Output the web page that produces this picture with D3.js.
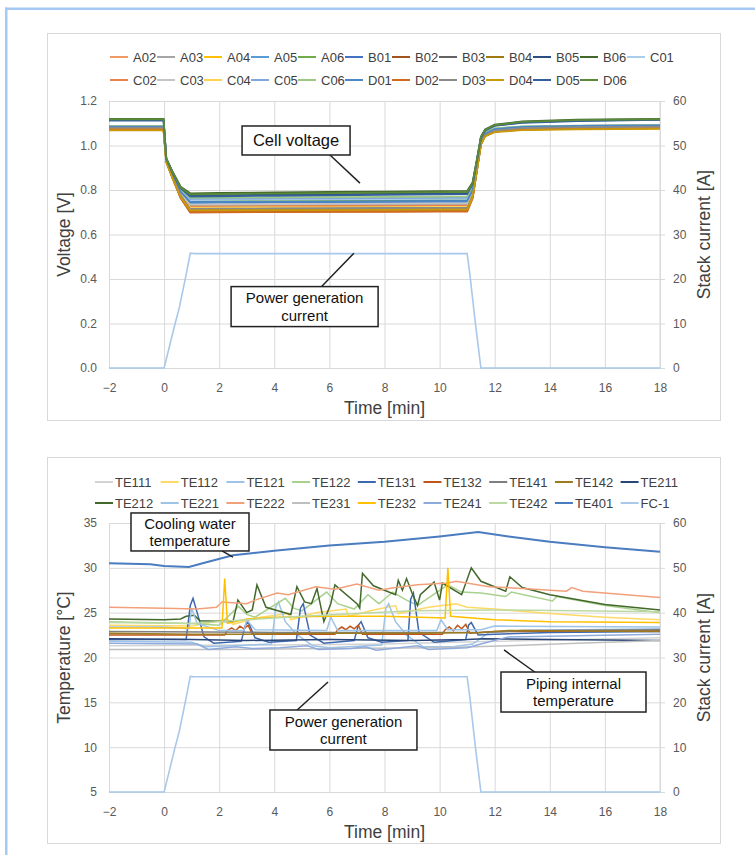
<!DOCTYPE html>
<html>
<head>
<meta charset="utf-8">
<script src="https://cdn.jsdelivr.net/npm/d3@7"></script>
<style>
  body { margin: 0; background: #fff; }
  svg { font-family: "Liberation Sans", Arial, sans-serif; }
</style>
</head>
<body>
<svg id="chart" width="755" height="855"></svg>
<script>
// ---- tick values ----
const timeTicks = [-2, 0, 2, 4, 6, 8, 10, 12, 14, 16, 18];
const voltTicks = [0, 0.2, 0.4, 0.6, 0.8, 1.0, 1.2];
const tempTicks = [5, 10, 15, 20, 25, 30, 35];
const currTicks = [0, 10, 20, 30, 40, 50, 60];

// ---- stack current (FC-1), same in both charts ----
const fcTime    = [-2, 0, 0.2, 0.4, 0.55, 0.8, 0.95, 1.1, 11, 11.1, 11.3, 11.5, 18];
const fcCurrent = [0, 0, 5, 10, 13.5, 21, 25.8, 25.7, 25.7, 21, 10, 0, 0];

// ---- cell voltages [V] ----
const cellNames = ["A02","A03","A04","A05","A06","B01","B02","B03","B04","B05","B06","C01",
                   "C02","C03","C04","C05","C06","D01","D02","D03","D04","D05","D06"];
const cellColors = ["#ef9a64","#a5a5a5","#ffc000","#5b9bd5","#70ad47","#4472c4","#a5531d","#636363",
                    "#a07a10","#2c4c82","#43682b","#a9cdea","#e8844a","#c4c4c4","#ffd24d","#7fa7dd",
                    "#9cc97e","#4a86c8","#d2691e","#8a8a8a","#c99a0a","#35609f","#5a8a39"];
const cellTime = [-2, -0.02, 0.08, 0.3, 0.6, 0.95, 2, 4, 6, 8, 10, 11, 11.2, 11.35, 11.5, 11.65, 12, 13, 15, 18];
const vA02 = [1.075,1.075,0.93,0.86,0.77,0.705,0.706,0.707,0.708,0.709,0.71,0.71,0.77,0.89,1.01,1.045,1.065,1.074,1.078,1.08];
const vA03 = [1.08,1.08,0.932,0.865,0.785,0.73,0.731,0.732,0.733,0.734,0.735,0.735,0.79,0.9,1.015,1.05,1.07,1.08,1.083,1.085];
const vA04 = [1.07,1.07,0.928,0.86,0.775,0.715,0.716,0.716,0.717,0.718,0.718,0.719,0.775,0.89,1.01,1.045,1.063,1.072,1.076,1.078];
const vA05 = [1.08,1.08,0.935,0.87,0.79,0.74,0.741,0.742,0.743,0.744,0.745,0.745,0.8,0.905,1.02,1.052,1.072,1.08,1.083,1.085];
const vA06 = [1.08,1.08,0.936,0.872,0.795,0.75,0.751,0.752,0.753,0.754,0.755,0.756,0.805,0.91,1.02,1.055,1.074,1.082,1.086,1.088];
const vB01 = [1.082,1.082,0.935,0.87,0.792,0.745,0.746,0.746,0.747,0.748,0.75,0.75,0.8,0.905,1.02,1.053,1.073,1.081,1.085,1.087];
const vB02 = [1.075,1.075,0.928,0.855,0.765,0.70,0.701,0.702,0.703,0.704,0.705,0.705,0.765,0.885,1.005,1.043,1.063,1.073,1.077,1.079];
const vB03 = [1.085,1.085,0.932,0.862,0.78,0.72,0.721,0.722,0.723,0.724,0.725,0.726,0.78,0.895,1.015,1.05,1.072,1.083,1.088,1.09];
const vB04 = [1.07,1.07,0.926,0.857,0.77,0.71,0.711,0.712,0.712,0.713,0.714,0.714,0.77,0.887,1.007,1.043,1.062,1.071,1.075,1.077];
const vB05 = [1.114,1.114,0.94,0.88,0.81,0.775,0.777,0.779,0.781,0.783,0.785,0.786,0.83,0.93,1.035,1.068,1.09,1.104,1.112,1.116];
const vB06 = [1.12,1.12,0.942,0.885,0.815,0.785,0.787,0.789,0.791,0.793,0.795,0.796,0.835,0.935,1.04,1.072,1.094,1.108,1.116,1.12];
const vC01 = [1.082,1.082,0.936,0.873,0.797,0.755,0.756,0.757,0.758,0.759,0.76,0.76,0.81,0.91,1.02,1.054,1.073,1.081,1.085,1.087];
const vC02 = [1.078,1.078,0.93,0.862,0.78,0.725,0.726,0.727,0.728,0.729,0.73,0.73,0.785,0.897,1.012,1.048,1.068,1.077,1.08,1.082];
const vC03 = [1.085,1.085,0.934,0.866,0.787,0.735,0.736,0.737,0.738,0.739,0.74,0.74,0.795,0.902,1.017,1.052,1.073,1.084,1.088,1.09];
const vC04 = [1.075,1.075,0.93,0.86,0.778,0.72,0.721,0.722,0.722,0.723,0.724,0.724,0.78,0.893,1.01,1.046,1.066,1.075,1.078,1.08];
const vC05 = [1.086,1.086,0.937,0.875,0.8,0.76,0.761,0.762,0.763,0.764,0.765,0.766,0.815,0.915,1.024,1.057,1.076,1.085,1.088,1.09];
const vC06 = [1.087,1.087,0.938,0.876,0.803,0.765,0.766,0.767,0.768,0.769,0.77,0.771,0.818,0.918,1.026,1.058,1.077,1.086,1.089,1.091];
const vD01 = [1.085,1.085,0.935,0.87,0.792,0.745,0.746,0.747,0.748,0.749,0.75,0.75,0.8,0.906,1.02,1.053,1.074,1.084,1.088,1.09];
const vD02 = [1.074,1.074,0.927,0.855,0.764,0.70,0.70,0.701,0.702,0.702,0.703,0.703,0.763,0.883,1.003,1.042,1.062,1.072,1.076,1.078];
const vD03 = [1.08,1.08,0.93,0.86,0.776,0.715,0.716,0.717,0.718,0.719,0.72,0.72,0.776,0.892,1.01,1.047,1.067,1.078,1.082,1.085];
const vD04 = [1.068,1.068,0.925,0.855,0.768,0.708,0.709,0.709,0.71,0.711,0.712,0.712,0.768,0.885,1.005,1.041,1.06,1.069,1.073,1.075];
const vD05 = [1.112,1.112,0.94,0.878,0.808,0.77,0.772,0.774,0.776,0.778,0.78,0.781,0.826,0.927,1.033,1.066,1.088,1.102,1.11,1.115];
const vD06 = [1.118,1.118,0.941,0.882,0.812,0.78,0.782,0.784,0.786,0.788,0.79,0.791,0.832,0.932,1.037,1.07,1.092,1.106,1.114,1.118];
const cellSeries = [vA02,vA03,vA04,vA05,vA06,vB01,vB02,vB03,vB04,vB05,vB06,vC01,
                    vC02,vC03,vC04,vC05,vC06,vD01,vD02,vD03,vD04,vD05,vD06];

// ---- temperatures [degC], [time, value] ----
const tempNames = ["TE111","TE112","TE121","TE122","TE131","TE132","TE141","TE142","TE211",
                   "TE212","TE221","TE222","TE231","TE232","TE241","TE242","TE401","FC-1"];
const tempColors = ["#d3d3d3","#ffd966","#9dc3e6","#a9d18e","#3d68b0","#c0561a","#7f7f7f","#9c7a1f","#2a4677",
                    "#43682b","#9dc3e6","#f2a07a","#bfbfbf","#ffc000","#8faadc","#bcd9a3","#4a7cc0","#a9c8ea"];
const tTE111 = [[-2,21.3],[4,21.4],[8,21.5],[12,21.8],[18,22.2]];
const tTE112 = [[-2,23.6],[1,23.5],[1.5,23.8],[2.3,24.3],[2.5,23.7],[3.5,24.5],[4.5,24.9],[4.6,24.2],[5.5,25.0],[6.6,25.4],
                [6.7,24.6],[7.6,25.3],[8.4,25.8],[8.5,24.9],[9.6,25.6],[10.6,26.0],[11,25.6],[12,25.4],[14,24.9],[16,24.5],[18,24.2]];
const tTE121 = [[-2,21.8],[1,21.7],[1.5,21.2],[2.5,21.3],[3.9,21.5],[4.05,25.6],[4.15,26.2],[4.4,24.0],[4.8,22.6],[5.4,21.3],
                [6,21.1],[7.9,21.4],[8.05,25.5],[8.15,26.0],[8.4,24.0],[8.8,22.5],[9.4,21.2],[10.5,21.2],[11.2,21.5],
                [11.8,22.8],[13,23.0],[18,23.2]];
const tTE122 = [[-2,24.0],[1,23.8],[2,23.6],[2.7,25.7],[3,24.8],[3.3,24.5],[4.4,26.6],[4.7,25.5],[5,25.2],[5.9,27.3],
                [6.3,26.0],[6.9,25.4],[7.4,27.0],[7.8,26.0],[8.3,27.3],[8.8,26.4],[9.2,25.8],[10.3,28.1],[10.8,27.3],
                [11.5,27.2],[12.4,26.8],[12.6,27.3],[14.1,26.3],[14.25,26.8],[16,25.8],[18,25.0]];
const tTE131 = [[-2,22.0],[0.8,22.0],[0.95,25.8],[1.05,26.6],[1.2,25.0],[1.45,22.3],[1.8,21.6],[2.8,21.8],[2.95,23.6],
                [3.05,24.0],[3.3,22.2],[3.8,21.7],[4.8,21.9],[4.95,25.5],[5.05,26.0],[5.3,22.5],[5.8,21.6],[6.9,21.9],
                [7.05,23.6],[7.15,24.0],[7.4,22.2],[7.9,21.7],[8.85,21.9],[8.95,26.5],[9.05,27.2],[9.25,22.8],[9.8,21.7],
                [10.95,22.0],[11.05,23.6],[11.15,23.9],[11.4,22.5],[12,22.6],[14,22.8],[18,22.9]];
const tTE132 = [[-2,22.5],[2.2,22.5],[2.3,23.0],[2.45,23.3],[2.6,23.0],[2.75,23.5],[2.9,23.2],[3.05,23.6],[3.2,22.6],
                [6.2,22.6],[6.3,23.1],[6.45,23.4],[6.6,23.1],[6.75,23.5],[6.9,23.2],[7.05,23.6],[7.2,22.6],[10.1,22.6],
                [10.2,23.1],[10.35,23.4],[10.5,23.0],[10.65,23.6],[10.8,23.2],[10.95,23.7],[11.1,22.7],[12,22.9],[18,23.0]];
const tTE141 = [[-2,22.9],[4,22.8],[8,22.8],[11.5,22.8],[13,23.0],[18,23.1]];
const tTE142 = [[-2,22.7],[1,22.6],[3,22.6],[6,22.7],[9,22.7],[11.5,22.8],[12.5,23.0],[18,22.9]];
const tTE211 = [[-2,22.1],[1,22.0],[3,21.9],[6,22.0],[9,21.9],[11,22.0],[11.6,22.1],[14,22.0],[18,21.9]];
const tTE212 = [[-2,24.3],[0,24.2],[0.6,24.3],[0.8,24.6],[1.1,24.7],[1.3,24.1],[2.5,24.0],[2.68,26.4],[3,25.0],[3.2,25.3],
                [3.37,28.1],[3.7,25.6],[4.6,24.8],[4.82,27.9],[5.1,26.2],[5.35,26.0],[5.55,27.7],[5.8,24.0],[6.05,26.0],
                [6.2,28.1],[7,26.0],[7.1,25.5],[7.2,29.4],[7.6,28.0],[8.4,27.0],[8.5,28.6],[8.65,27.5],[8.8,28.8],[9,27.2],
                [9.2,25.8],[9.3,27.0],[9.8,28.4],[10,26.4],[10.1,28.3],[10.8,27.0],[11.15,30.0],[11.5,28.5],[12.4,27.4],
                [12.55,29.0],[13,27.8],[14,27.0],[16,25.9],[18,25.3]];
const tTE221 = [[-2,23.4],[0,23.4],[0.9,23.2],[1,25.5],[1.2,23.8],[2,23.0],[2.9,23.0],[3,24.2],[3.3,23.1],[5.9,23.0],
                [6.05,24.5],[6.3,23.0],[9.9,23.0],[10.05,24.2],[10.3,23.1],[11.5,23.1],[12,23.5],[18,23.4]];
const tTE222 = [[-2,25.6],[0,25.5],[1.2,25.4],[1.9,25.6],[2.1,26.2],[3,26.0],[3.3,26.4],[4.1,27.2],[4.5,27.0],[5.5,27.9],
                [6.2,27.6],[7,28.2],[7.8,27.5],[8.4,27.8],[9.2,28.1],[10.3,28.3],[10.6,28.5],[11.8,27.9],[13,27.7],
                [14.6,27.4],[14.8,27.8],[15.2,27.4],[18,26.7]];
const tTE231 = [[-2,20.9],[2,20.9],[6,21.0],[10,21.1],[12.5,21.3],[15,21.6],[18,21.9]];
const tTE232 = [[-2,23.3],[2.1,23.3],[2.2,28.8],[2.3,23.8],[3,24.3],[4,24.5],[6,24.6],[8,24.6],[10.2,24.4],[10.3,30.0],
                [10.4,24.6],[12,24.2],[14,24.0],[18,23.9]];
const tTE241 = [[-2,21.6],[1.2,21.5],[1.6,20.9],[2.6,21.2],[3.2,21.0],[4.2,21.1],[5.2,21.3],[5.6,20.9],[6.8,21.0],[7.3,21.2],
                [7.7,20.8],[9.2,21.3],[9.6,20.9],[11,21.1],[11.6,21.6],[12.5,22.3],[18,22.6]];
const tTE242 = [[-2,23.9],[1,23.8],[3,24.2],[5,24.6],[7,24.9],[9,25.2],[12,25.3],[15,25.2],[18,25.1]];
const tTE401 = [[-2,30.5],[-0.5,30.4],[0,30.2],[0.9,30.1],[1.5,30.6],[2.5,31.4],[4,31.9],[6,32.5],[8,32.9],[10,33.5],
                [11.4,34.0],[12.5,33.5],[14,32.9],[16,32.3],[18,31.8]];
const tempSeries = [tTE111,tTE112,tTE121,tTE122,tTE131,tTE132,tTE141,tTE142,tTE211,
                    tTE212,tTE221,tTE222,tTE231,tTE232,tTE241,tTE242,tTE401];

const svg = d3.select("#chart");

// light blue frame of the page (top and left only)
svg.append("rect").attr("x", 5).attr("y", 7.5).attr("width", 750).attr("height", 2.5).attr("fill", "#a6c9f3");
svg.append("rect").attr("x", 5).attr("y", 7.5).attr("width", 2.5).attr("height", 848).attr("fill", "#a6c9f3");

const x = d3.scaleLinear().domain([-2, 18]).range([109, 660]);
const fmtTime = d => d < 0 ? "\u2212" + Math.abs(d) : d;

function drawPanel(cfg) {
  const g = svg.append("g");
  g.append("rect")
    .attr("x", 47.5).attr("y", cfg.panel[0] + 0.5)
    .attr("width", 673).attr("height", cfg.panel[1] - cfg.panel[0])
    .attr("fill", "#fff").attr("stroke", "#d9d9d9");

  const yL = d3.scaleLinear().domain(cfg.leftDomain).range([cfg.bottom, cfg.top]);
  const yR = d3.scaleLinear().domain([0, 60]).range([cfg.bottom, cfg.top]);

  // x axis + vertical grid
  const gx = g.append("g").attr("transform", `translate(0,${cfg.bottom})`)
    .call(d3.axisBottom(x).tickValues(timeTicks).tickFormat(fmtTime)
      .tickSize(-(cfg.bottom - cfg.top)).tickPadding(15));
  // left axis + horizontal grid
  const gl = g.append("g").attr("transform", "translate(109,0)")
    .call(d3.axisLeft(yL).tickValues(cfg.leftTicks).tickFormat(cfg.leftFormat)
      .tickSize(-(660 - 109)).tickPadding(12));
  // right axis
  const gr = g.append("g").attr("transform", "translate(660,0)")
    .call(d3.axisRight(yR).tickValues(currTicks).tickSize(5).tickPadding(8));
  [gx, gl, gr].forEach(a => {
    a.select(".domain").remove();
    a.selectAll(".tick line").attr("stroke", "#d9d9d9");
    a.selectAll(".tick text").attr("fill", "#595959").attr("font-size", 12)
      .attr("font-family", "Liberation Sans, Arial, sans-serif");
  });
  gr.append("line").attr("y1", cfg.top).attr("y2", cfg.bottom).attr("stroke", "#d9d9d9");

  // axis titles
  g.append("text").attr("x", 384.5).attr("y", cfg.bottom + 46)
    .attr("text-anchor", "middle").attr("font-size", 17.5).attr("fill", "#404040").text("Time [min]");
  g.append("text").attr("transform", `translate(70,${(cfg.top + cfg.bottom) / 2}) rotate(-90)`)
    .attr("text-anchor", "middle").attr("font-size", 17.5).attr("fill", "#404040").text(cfg.leftTitle);
  g.append("text").attr("transform", `translate(710,${(cfg.top + cfg.bottom) / 2}) rotate(-90)`)
    .attr("text-anchor", "middle").attr("font-size", 17.5).attr("fill", "#404040").text("Stack current [A]");

  // legend
  cfg.names.forEach((n, i) => {
    const row = Math.floor(i / cfg.perRow), col = i % cfg.perRow;
    const lx = cfg.legendX + col * cfg.legendStep, ly = cfg.legendY[row];
    g.append("line").attr("x1", lx).attr("x2", lx + 18).attr("y1", ly).attr("y2", ly)
      .attr("stroke", cfg.colors[i]).attr("stroke-width", 2);
    g.append("text").attr("x", lx + cfg.textGap).attr("y", ly + 4.5)
      .attr("font-size", 13).attr("fill", "#404040").text(n);
  });

  return { g, yL, yR };
}

function drawNote(g, ys, note) {
  const cx = x(note.t), cy = ys(note.v);
  g.append("line")
    .attr("x1", x(note.leader[0][0])).attr("y1", ys(note.leader[0][1]))
    .attr("x2", x(note.leader[1][0])).attr("y2", ys(note.leader[1][1]))
    .attr("stroke", "#222").attr("stroke-width", 1.5);
  g.append("rect").attr("x", cx - note.w / 2).attr("y", cy - note.h / 2)
    .attr("width", note.w).attr("height", note.h)
    .attr("fill", "#fff").attr("stroke", "#222").attr("stroke-width", 1.5);
  // one text element per line, spaced so the lines do not collide
  const two = note.lines.length > 1;
  const step = 17.5, off = (note.lines.length - 1) * step / 2;
  note.lines.forEach((s, i) => {
    g.append("text").attr("text-anchor", "middle").attr("font-size", two ? 15 : 16.5)
      .attr("fill", "#111").attr("x", cx).attr("y", cy - off + i * step + 5.3).text(s);
  });
}

// ===== chart 1: cell voltage =====
const c1 = drawPanel({
  panel: [33, 420], top: 101, bottom: 368,
  leftDomain: [0, 1.2], leftTicks: voltTicks, leftFormat: d3.format(".1f"), leftTitle: "Voltage [V]",
  names: cellNames, colors: cellColors, perRow: 12, legendX: 110, legendStep: 47, textGap: 23,
  legendY: [57, 80]
});

const line1 = d3.line().x(d => x(d[0])).y(d => c1.yL(d[1]));
const lineCur1 = d3.line().x(d => x(d[0])).y(d => c1.yR(d[1]));

c1.g.append("path").datum(d3.zip(fcTime, fcCurrent))
  .attr("d", lineCur1).attr("fill", "none").attr("stroke", "#a9c8ea").attr("stroke-width", 1.6);

cellSeries.forEach((vals, i) => {
  c1.g.append("path").datum(d3.zip(cellTime, vals))
    .attr("d", line1).attr("fill", "none")
    .attr("stroke", cellColors[i]).attr("stroke-width", 1.8);
});

drawNote(c1.g, c1.yL, { lines: ["Cell voltage"], t: 4.79, v: 1.0225, w: 108, h: 29,
  leader: [[6.02, 0.957], [7.11, 0.831]] });
drawNote(c1.g, c1.yR, { lines: ["Power generation", "current"], t: 5.10, v: 13.8, w: 147, h: 40,
  leader: [[5.70, 18.2], [6.89, 25.8]] });

// ===== chart 2: temperature =====
const c2 = drawPanel({
  panel: [457, 843], top: 523, bottom: 792,
  leftDomain: [5, 35], leftTicks: tempTicks, leftFormat: d3.format("d"), leftTitle: "Temperature [\u00b0C]",
  names: tempNames, colors: tempColors, perRow: 9, legendX: 95, legendStep: 65.7, textGap: 20,
  legendY: [482, 503]
});

const line2 = d3.line().x(d => x(d[0])).y(d => c2.yL(d[1]));
const lineCur2 = d3.line().x(d => x(d[0])).y(d => c2.yR(d[1]));

tempSeries.forEach((vals, i) => {
  c2.g.append("path").datum(vals)
    .attr("d", line2).attr("fill", "none")
    .attr("stroke", tempColors[i]).attr("stroke-width", i === 16 ? 2 : 1.5);
});
c2.g.append("path").datum(d3.zip(fcTime, fcCurrent))
  .attr("d", lineCur2).attr("fill", "none").attr("stroke", "#a9c8ea").attr("stroke-width", 1.6);

drawNote(c2.g, c2.yL, { lines: ["Cooling water", "temperature"], t: 0.94, v: 34.0, w: 118, h: 38,
  leader: [[2.10, 31.9], [2.50, 31.2]] });
drawNote(c2.g, c2.yL, { lines: ["Piping internal", "temperature"], t: 14.86, v: 16.15, w: 145, h: 40,
  leader: [[12.34, 20.84], [13.50, 18.27]] });
drawNote(c2.g, c2.yR, { lines: ["Power generation", "current"], t: 6.51, v: 13.83, w: 147, h: 40,
  leader: [[4.79, 18.07], [5.95, 24.54]] });
</script>
</body>
</html>
